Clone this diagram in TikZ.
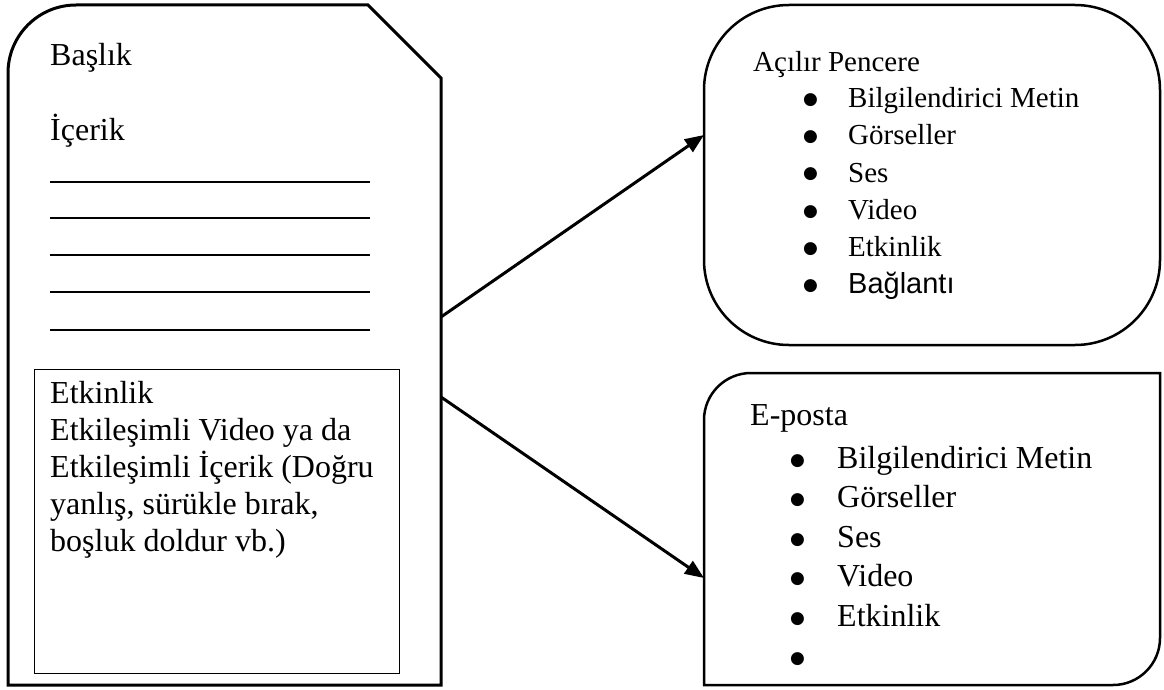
\documentclass[tikz,border=0pt]{standalone}
\usepackage{fontspec}
\setmainfont{Liberation Serif}
\newfontfamily\arialfont{Liberation Sans}
\newfontfamily\dotfont{DejaVu Sans}
\usetikzlibrary{arrows.meta}
\newcommand\listdot{\raisebox{3pt}{\dotfont\fontsize{17}{17}\selectfont ●}}
\begin{document}
\begin{tikzpicture}[x=1pt,y=-1pt,
  heavy/.style={draw=black,line width=3pt,line join=miter},
  roundline/.style={draw=black,line width=2.5pt},
  thinline/.style={draw=black,line width=1pt},
  rule/.style={draw=black,line width=1.3pt},
  frame/.style={inner sep=0pt,outer sep=0pt},
  big/.style={anchor=base west,inner sep=0pt,font=\fontsize{32}{37}\selectfont},
  small/.style={anchor=base west,inner sep=0pt,font=\fontsize{29}{35}\selectfont},
  link/.style={line width=3pt,-{Triangle[length=19pt,width=15pt]}}
]
\useasboundingbox (0,0) rectangle (1164,690);

% ---- page on the left ----
\node[frame,minimum width=433pt,minimum height=680pt] (page) at (224.5,345) {};
\draw[heavy] (8,685) -- (8,73) arc[start angle=180,end angle=270,radius=68]
  -- (368,5) -- (441,78) -- (441,685) -- cycle;

\node[big] (title) at (50,66) {Başlık};
\node[big] (content) at (50,141) {İçerik};
\foreach \y [count=\i] in {182,218,255,292,330}
  \draw[rule] (50,\y) coordinate (ruleL\i) -- (370,\y) coordinate (ruleR\i);

\node[frame,thinline,draw,anchor=north west,minimum width=365pt,minimum height=304pt]
  (activity) at (34,369) {};
\foreach \t [count=\i] in {Etkinlik,Etkileşimli Video ya da,Etkileşimli İçerik (Doğru,{yanlış, sürükle bırak,},{boşluk doldur vb.)}}
  \node[big] (act\i) at (50,{403+37*(\i-1)}) {\t};

% ---- pop-up window ----
\node[frame,roundline,draw,rounded corners=85pt,minimum width=456pt,minimum height=340pt]
  (popup) at (932,175) {};
\node[small] (popuptitle) at (753,72) {Açılır Pencere};
\foreach \t [count=\i] in {Bilgilendirici Metin,Görseller,Ses,Video,Etkinlik,{\arialfont Bağlantı}}
  \node[small] (pop\i) at (803,{108+37*(\i-1)}) {\makebox[45pt][l]{\listdot}\t};

% ---- e-mail ----
\node[frame,minimum width=456pt,minimum height=312pt] (mail) at (932,529) {};
\draw[roundline] (704,685) -- (704,420) arc[start angle=180,end angle=270,radius=47]
  -- (1160,373) -- (1160,638) arc[start angle=0,end angle=90,radius=47] -- cycle;
\node[big] (mailtitle) at (750,425) {E-posta};
\foreach \t [count=\i] in {Bilgilendirici Metin,Görseller,Ses,Video,Etkinlik,{}}
  \node[big] (mail\i) at (790,{468+39.6*(\i-1)}) {\makebox[47pt][l]{\listdot}\t};

% ---- connectors ----
\coordinate (out1) at (441,317);
\coordinate (out2) at (441,397);
\coordinate (in1) at (popup.west |- 0,135);
\coordinate (in2) at (mail.west |- 0,578);
\draw[link] (out1) -- (in1);
\draw[link] (out2) -- (in2);
\end{tikzpicture}
\end{document}
